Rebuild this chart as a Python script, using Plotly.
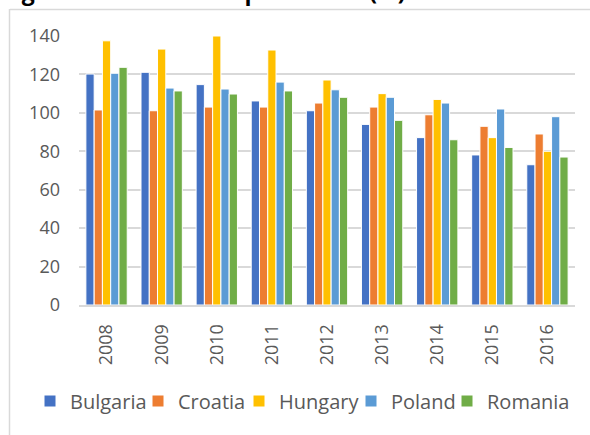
import plotly.graph_objects as go

years = ["2008", "2009", "2010", "2011", "2012", "2013", "2014", "2015", "2016"]
bulgaria = [120.2, 121.1, 114.7, 106.2, 101.1, 94.0, 87.1, 78.1, 73.0]
croatia = [101.5, 101.1, 103.0, 103.0, 105.1, 103.0, 99.0, 93.0, 89.0]
hungary = [137.5, 133.2, 140.0, 132.7, 117.1, 110.0, 107.0, 87.1, 80.0]
poland = [120.6, 112.9, 112.4, 116.0, 112.0, 108.1, 105.1, 102.0, 98.0]
romania = [123.7, 111.4, 109.8, 111.4, 108.1, 96.1, 86.0, 82.0, 77.0]

series = [
    ("Bulgaria", bulgaria, "#4472C4"),
    ("Croatia", croatia, "#ED7D31"),
    ("Hungary", hungary, "#FFC000"),
    ("Poland", poland, "#5B9BD5"),
    ("Romania", romania, "#70AD47"),
]

FONT = "Open Sans"
GREY = "#595959"

# plot area in pixels
L, R, T, B = 79, 15, 36, 130
W = 590 - L - R
H = 435 - T - B

def px_x(p):
    return (p - L) / W

def px_y(p):
    return (435 - B - p) / H

# left edges (px) of each legend entry so that the texts land like the reference
legend_left = [30, 138, 239, 351, 447]

fig = go.Figure()
layout_legends = {}
for i, (name, vals, color) in enumerate(series):
    key = "legend" if i == 0 else f"legend{i + 1}"
    fig.add_trace(go.Bar(
        x=years, y=vals, name=name, legend=key,
        marker=dict(color=color, line=dict(color="white", width=1)),
    ))
    layout_legends[key] = dict(
        orientation="h", x=px_x(legend_left[i]), xanchor="left",
        y=px_y(401), yanchor="middle",
        font=dict(family=FONT, size=20, color=GREY),
        itemwidth=30, bgcolor="rgba(0,0,0,0)",
    )

fig.update_layout(
    width=590, height=435,
    margin=dict(l=L, r=R, t=T, b=B, autoexpand=False),
    paper_bgcolor="white", plot_bgcolor="white",
    barmode="group", bargap=0.25, bargroupgap=0,
    font=dict(family=FONT, color=GREY, size=18),
    showlegend=True,
    xaxis=dict(
        tickangle=-90, tickfont=dict(family=FONT, size=18, color=GREY),
        showline=True, linecolor="#D9D9D9", linewidth=2,
        ticks="", showgrid=False, ticklabelstandoff=10,
    ),
    yaxis=dict(
        range=[0, 140], dtick=20, tickfont=dict(family=FONT, size=18, color=GREY),
        gridcolor="#D9D9D9", gridwidth=1.5, zeroline=False,
        ticks="", showline=False, ticklabelstandoff=18,
    ),
    shapes=[
        dict(type="line", xref="paper", yref="paper",
             x0=px_x(10), x1=px_x(600), y0=px_y(9.5), y1=px_y(9.5),
             line=dict(color="#D9D9D9", width=1.5)),
        dict(type="line", xref="paper", yref="paper",
             x0=px_x(9.5), x1=px_x(9.5), y0=px_y(9), y1=px_y(450),
             line=dict(color="#D9D9D9", width=1.5)),
    ],
    annotations=[
        dict(text="<b>Figure 28: Loan-to-Deposit ratio (%)</b>",
             xref="paper", yref="paper", x=px_x(0), xanchor="left",
             y=px_y(9), yanchor="bottom", showarrow=False,
             font=dict(family=FONT, size=23, color="black")),
    ],
    **layout_legends,
)

fig.write_html(
    "out.html",
    config={"displayModeBar": False},
    post_script="document.body.style.margin='0';document.body.style.overflow='hidden';",
)
